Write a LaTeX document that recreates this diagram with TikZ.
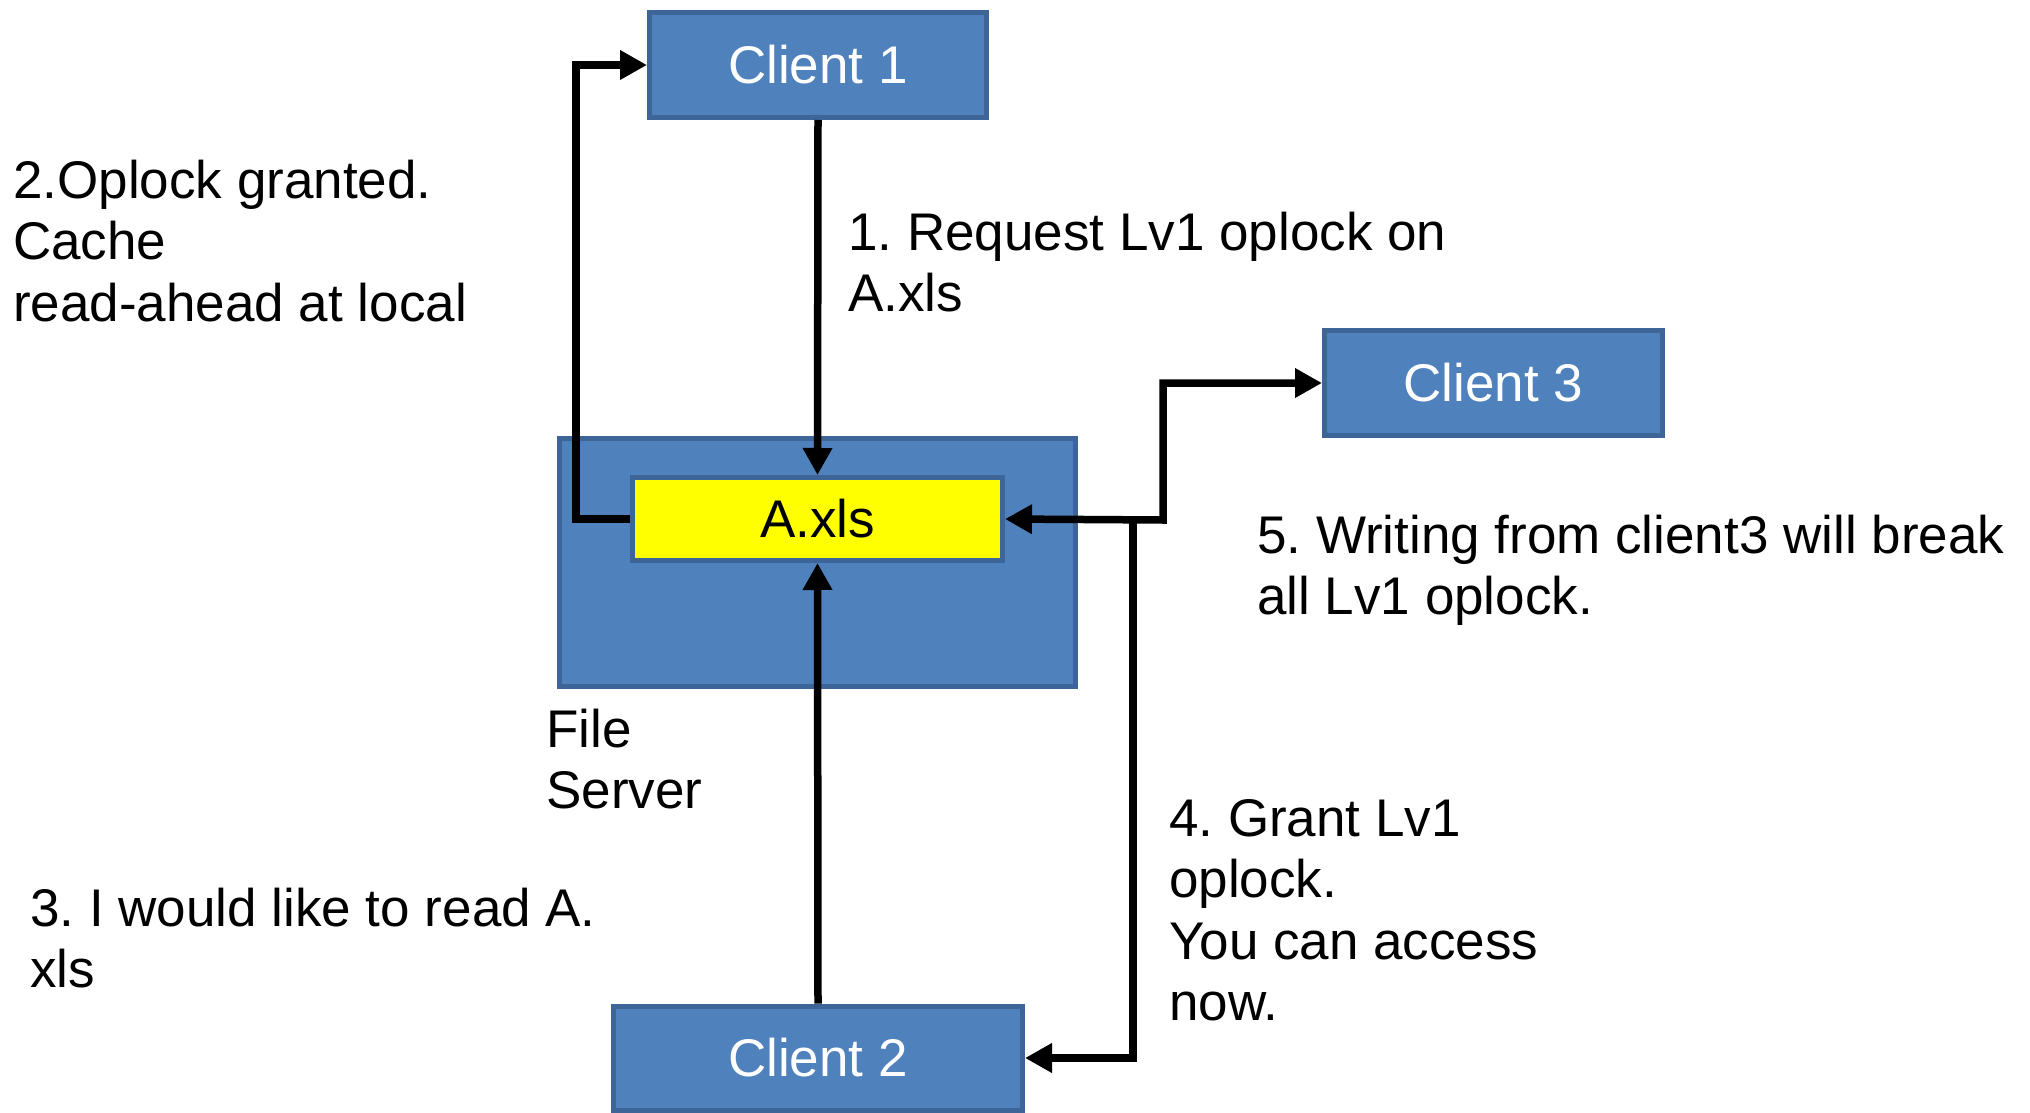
\documentclass[tikz,border=0pt]{standalone}
\usepackage{fontspec}
\setmainfont{Liberation Sans}
\frenchspacing
\usetikzlibrary{arrows.meta}
\definecolor{boxblue}{HTML}{4F81BD}
\definecolor{boxedge}{HTML}{3D6597}
\definecolor{filehl}{HTML}{FFFF00}
\begin{document}
\begin{tikzpicture}[x=1pt,y=-1pt,
  block/.style={draw=boxedge, fill=boxblue, line width=5pt, inner sep=0pt,
    text=white, font=\fontsize{53}{61}\selectfont},
  filebox/.style={draw=boxedge, fill=filehl, line width=5pt, inner sep=0pt,
    text=black, font=\fontsize{53}{61}\selectfont},
  % multi-line labels are placed by the baseline of their last line
  lbl/.style={inner sep=0pt, align=left, anchor=base west,
    font=\fontsize{53}{61.5}\selectfont},
  conn/.style={line width=7.5pt, draw=black},
  tip/.tip={Triangle[length=27pt,width=28pt]}
]
\useasboundingbox (0,0) rectangle (2030,1113);

% server and the file it holds
\node[block, minimum width=516pt, minimum height=248pt] (srv) at (817.5,562.5) {};
\node[filebox, minimum width=370pt, minimum height=83pt] (ax) at (817.5,519) {A.xls};

% clients
\node[block, minimum width=337pt, minimum height=105pt] (c1) at (818,65) {Client 1};
\node[block, minimum width=338pt, minimum height=105pt] (c3) at (1493.5,383) {Client 3};
\node[block, minimum width=409pt, minimum height=104pt] (c2) at (818,1058) {Client 2};

% bend points of the connectors
\coordinate (lane) at (576,0);
\coordinate (j5) at (1163,520);
\coordinate (j4) at (1133,520);

% connectors
\draw[conn, -tip] (c1.south) -- (ax.north);
\draw[conn, -tip] (ax.west) -- (ax.west -| lane) |- (c1.west);
\draw[conn, -tip] (c2.north) -- (ax.south);
\draw[conn, tip-tip] (ax.east) -- (j5) |- (c3.west);
\draw[conn, -tip] (j4) |- (c2.east);

% labels
\node[lbl] (t2) at (13,321) {2.Oplock granted.\\Cache\\read-ahead at local};
\node[lbl] (t1) at (848,311.5) {1. Request Lv1 oplock on\\A.xls};
\node[lbl] (t5) at (1257,614.5) {5. Writing from client3 will break\\all Lv1 oplock.};
\node[lbl] (tsrv) at (546,808.5) {File\\Server};
\node[lbl] (t4) at (1169,1020.5) {4. Grant Lv1\\oplock.\\You can access\\now.};
\node[lbl] (t3) at (30,987.5) {3. I would like to read A.\\xls};
\end{tikzpicture}
\end{document}
